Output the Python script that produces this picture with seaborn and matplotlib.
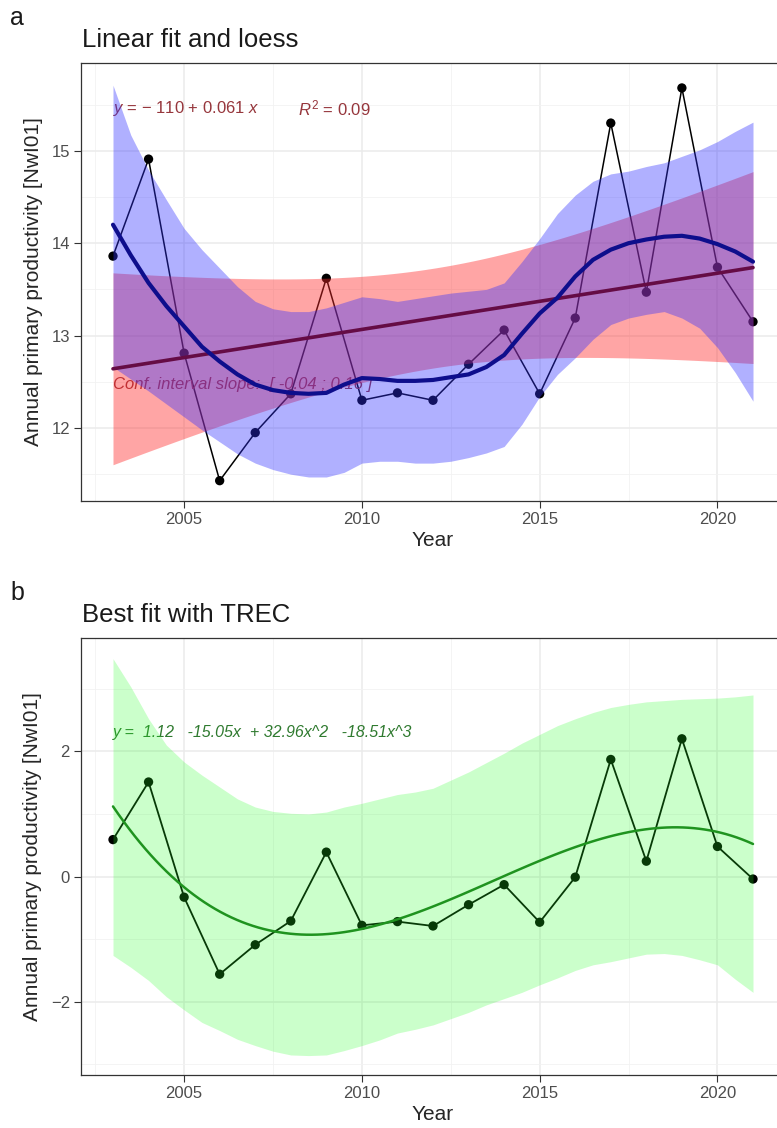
import numpy as np
import seaborn as sns
import matplotlib.pyplot as plt
from matplotlib.ticker import MultipleLocator

# annual primary productivity, Nwl01 station
years = list(range(2003, 2022))
npp = [13.86, 14.91, 12.81, 11.43, 11.95, 12.37, 13.62, 12.30, 12.38, 12.30,
       12.69, 13.06, 12.37, 13.19, 15.30, 13.47, 15.68, 13.74, 13.15]

# smoothed curves every half year
half_years = np.arange(2003, 2021.01, 0.5)

loess_fit = [14.20, 13.87, 13.57, 13.32, 13.10, 12.88, 12.72, 12.58, 12.47, 12.41,
             12.38, 12.37, 12.38, 12.47, 12.54, 12.53, 12.51, 12.51, 12.52, 12.55,
             12.58, 12.66, 12.79, 13.02, 13.24, 13.41, 13.64, 13.82, 13.93, 14.00,
             14.04, 14.07, 14.08, 14.05, 13.99, 13.91, 13.80]
loess_lo = [12.66, 12.53, 12.40, 12.26, 12.12, 11.98, 11.85, 11.72, 11.62, 11.55,
            11.50, 11.47, 11.47, 11.52, 11.62, 11.64, 11.64, 11.62, 11.62, 11.64,
            11.68, 11.73, 11.80, 12.04, 12.34, 12.58, 12.76, 12.96, 13.12, 13.19,
            13.23, 13.26, 13.19, 13.08, 12.87, 12.60, 12.29]
loess_hi = [15.71, 15.17, 14.79, 14.47, 14.16, 13.93, 13.73, 13.53, 13.37, 13.29,
            13.26, 13.26, 13.30, 13.36, 13.42, 13.40, 13.37, 13.40, 13.43, 13.46,
            13.48, 13.50, 13.57, 13.80, 14.05, 14.32, 14.52, 14.67, 14.75, 14.78,
            14.83, 14.87, 14.94, 15.01, 15.10, 15.21, 15.31]

# detrended series (TREC) and cubic fit
npp_trec = [0.59, 1.51, -0.33, -1.56, -1.09, -0.71, 0.39, -0.78, -0.72, -0.79,
            -0.45, -0.13, -0.73, -0.01, 1.87, 0.245, 2.20, 0.48, -0.04]
trec_coef = [1.12, -15.05, 32.96, -18.51]
trec_lo = [-1.26, -1.45, -1.66, -1.92, -2.13, -2.33, -2.46, -2.60, -2.70, -2.79,
           -2.85, -2.86, -2.85, -2.78, -2.70, -2.61, -2.50, -2.44, -2.37, -2.27,
           -2.17, -2.05, -1.95, -1.85, -1.73, -1.62, -1.50, -1.41, -1.36, -1.30,
           -1.24, -1.23, -1.26, -1.33, -1.41, -1.64, -1.85]
trec_hi = [3.48, 3.03, 2.52, 2.10, 1.83, 1.62, 1.43, 1.24, 1.11, 1.04,
           1.01, 1.00, 1.03, 1.11, 1.17, 1.24, 1.31, 1.35, 1.41, 1.54,
           1.67, 1.82, 1.97, 2.13, 2.27, 2.41, 2.52, 2.62, 2.70, 2.75,
           2.79, 2.81, 2.83, 2.84, 2.85, 2.87, 2.90]

sns.set_theme(style="white")
plt.rcParams['font.family'] = ['Liberation Sans', 'DejaVu Sans']
plt.rcParams['mathtext.fontset'] = 'custom'
plt.rcParams['mathtext.rm'] = 'Liberation Sans'
plt.rcParams['mathtext.it'] = 'Liberation Sans:italic'

W, H = 777, 1128
fig = plt.figure(figsize=(W / 100, H / 100), dpi=100)


def px_axes(top, bottom, left=81, right=785):
    return fig.add_axes([left / W, 1 - bottom / H, (right - left) / W, (bottom - top) / H])


def bw_style(ax, ymajor, yminor):
    ax.set_facecolor('white')
    ax.xaxis.set_major_locator(MultipleLocator(5))
    ax.xaxis.set_minor_locator(MultipleLocator(2.5))
    ax.yaxis.set_major_locator(MultipleLocator(ymajor))
    ax.yaxis.set_minor_locator(MultipleLocator(yminor))
    ax.grid(True, which='major', color='#EBEBEB', lw=1.1, zorder=0)
    ax.grid(True, which='minor', color='#F2F2F2', lw=0.6, zorder=0)
    ax.set_axisbelow(True)
    for sp in ax.spines.values():
        sp.set_visible(True)
        sp.set_color('#333333')
        sp.set_linewidth(0.9)
    ax.tick_params(which='major', length=5, width=0.8, color='#333333',
                   labelcolor='#4D4D4D', labelsize=12, pad=3, left=True, bottom=True)
    ax.tick_params(which='minor', length=0)
    ax.set_xlim(2002.1, 2021.9)
    ax.set_xlabel('Year', fontsize=15, labelpad=3)
    ax.set_ylabel('Annual primary productivity [NwI01]', fontsize=15, labelpad=6)


# ---------- panel a ----------
ax1 = px_axes(63, 501)
bw_style(ax1, 1, 0.5)
ax1.set_ylim(11.21, 15.95)

sns.lineplot(x=years, y=npp, color='black', lw=1.1, ax=ax1, zorder=2)
sns.scatterplot(x=years, y=npp, color='black', s=45, edgecolor='none', ax=ax1, zorder=2)

# linear model with 95% confidence band
x = np.array(years, dtype=float)
y = np.array(npp)
slope, icpt = np.polyfit(x, y, 1)
resid = y - (icpt + slope * x)
n = len(x)
s = np.sqrt((resid ** 2).sum() / (n - 2))
sxx = ((x - x.mean()) ** 2).sum()
t975 = 2.1098  # t quantile, 17 df
xg = np.linspace(2003, 2021, 120)
lin = icpt + slope * xg
hw = t975 * s * np.sqrt(1 / n + (xg - x.mean()) ** 2 / sxx)

txt_red = '#96363C'
ax1.text(2003, 15.46, r'$y$ = − 110 + 0.061 $x$', fontsize=12,
         color=txt_red, va='center', zorder=2.5)
ax1.text(2008.2, 15.46, r'$R^2$ = 0.09', fontsize=12,
         color=txt_red, va='center', zorder=2.5)
ax1.text(2003, 12.47, 'Conf. interval slope:  [ -0.04 ; 0.16 ]', fontsize=12,
         style='italic', color=txt_red, va='center', zorder=2.5)

ax1.fill_between(xg, lin - hw, lin + hw, color='#FF2A2A', alpha=0.42, lw=0, zorder=3)
ax1.fill_between(half_years, loess_lo, loess_hi, color='#3030FF', alpha=0.38, lw=0, zorder=3.1)
sns.lineplot(x=xg, y=lin, color='#650C45', lw=2.6, ax=ax1, zorder=4)
sns.lineplot(x=half_years, y=loess_fit, color='#0E0E8C', lw=3.0, ax=ax1, zorder=4.1)

# ---------- panel b ----------
ax2 = px_axes(638, 1075)
bw_style(ax2, 2, 1)
ax2.set_ylim(-3.17, 3.81)

sns.lineplot(x=years, y=npp_trec, color='black', lw=1.3, ax=ax2, zorder=2)
sns.scatterplot(x=years, y=npp_trec, color='black', s=45, edgecolor='none', ax=ax2, zorder=2)

u = (xg - 2003) / 18
cubic = trec_coef[0] + trec_coef[1] * u + trec_coef[2] * u ** 2 + trec_coef[3] * u ** 3
ax2.text(2003, 2.3, 'y =  1.12   -15.05x  + 32.96x^2   -18.51x^3', fontsize=11.5,
         style='italic', color='#2F7A2F', va='center', zorder=2.5)
ax2.fill_between(half_years, trec_lo, trec_hi, color='#22FF22', alpha=0.23, lw=0, zorder=3)
sns.lineplot(x=xg, y=cubic, color='#1F931F', lw=1.8, ax=ax2, zorder=4)

# titles and panel tags
fig.text(82 / W, 1 - 47 / H, 'Linear fit and loess', fontsize=18.5, color='#1A1A1A', va='baseline')
fig.text(82 / W, 1 - 622 / H, 'Best fit with TREC', fontsize=18.5, color='#1A1A1A', va='baseline')
fig.text(10 / W, 1 - 25 / H, 'a', fontsize=18, color='#1A1A1A', va='baseline')
fig.text(10 / W, 1 - 600 / H, 'b', fontsize=18, color='#1A1A1A', va='baseline')

fig.savefig('out.png', dpi=100)
